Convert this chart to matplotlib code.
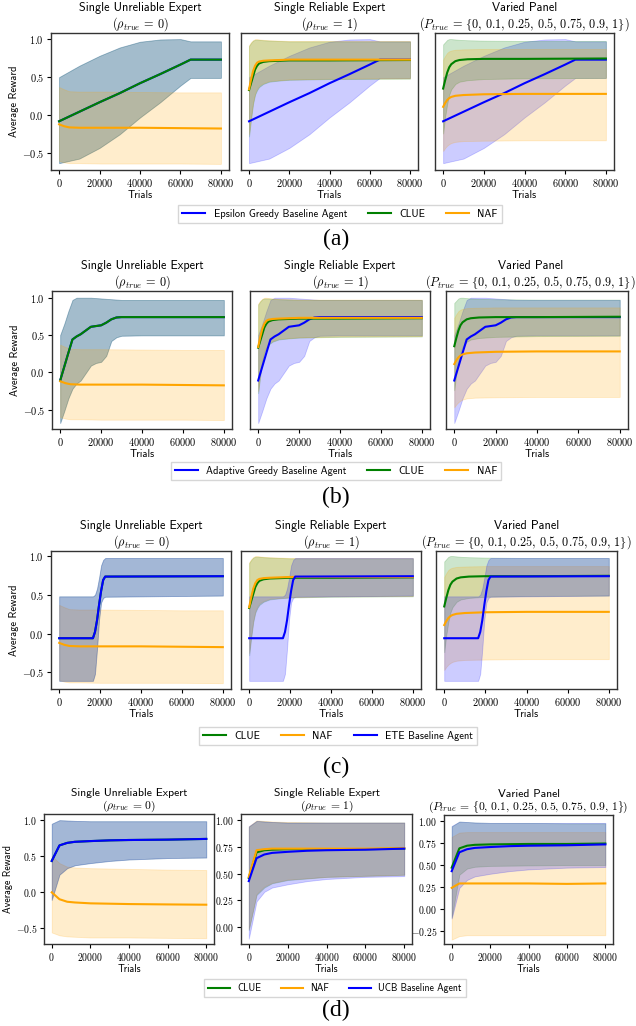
import matplotlib
matplotlib.use('Agg')
import matplotlib.pyplot as plt
from matplotlib.ticker import FuncFormatter
from matplotlib.lines import Line2D

# ---- data (trials, mean, lower band, upper band) ----
# (a) epsilon greedy baseline
EG_X = [0, 10000, 20000, 30000, 40000, 50000, 60000, 65000, 80000]
EG_MEAN = [-0.08, 0.045, 0.17, 0.29, 0.42, 0.54, 0.665, 0.73, 0.73]
EG_HI = [0.50, 0.65, 0.78, 0.89, 0.965, 0.995, 1.0, 0.97, 0.97]
EG_LO = [-0.63, -0.57, -0.43, -0.25, -0.03, 0.17, 0.39, 0.49, 0.49]

# (b) adaptive greedy baseline
AG_X = [0, 2000, 4000, 6000, 8000, 10000, 12500, 15000, 17500, 20000,
        22500, 25000, 27500, 30000, 40000, 80000]
AG_MEAN = [-0.11, 0.075, 0.26, 0.44, 0.48, 0.51, 0.56, 0.61, 0.62, 0.63,
           0.665, 0.71, 0.735, 0.74, 0.74, 0.74]
AG_HI = [0.50, 0.65, 0.82, 0.97, 1.0, 1.0, 1.0, 1.0, 0.995, 0.99,
         0.985, 0.98, 0.975, 0.97, 0.97, 0.97]
AG_LO = [-0.68, -0.52, -0.35, -0.22, -0.15, -0.11, -0.01, 0.09, 0.125, 0.14,
         0.22, 0.42, 0.47, 0.49, 0.495, 0.495]

# (c) ETE baseline
ETE_X = [0, 16500, 17500, 18500, 19500, 20500, 21500, 22500, 80000]
ETE_MEAN = [-0.06, -0.06, 0.02, 0.17, 0.37, 0.55, 0.69, 0.735, 0.74]
ETE_HI = [0.48, 0.48, 0.50, 0.58, 0.72, 0.88, 0.95, 0.975, 0.975]
ETE_LO = [-0.61, -0.61, -0.52, -0.20, 0.18, 0.40, 0.46, 0.475, 0.49]

# (d) UCB baseline
UCB_X = [0, 4000, 8000, 12000, 20000, 30000, 40000, 60000, 80000]
UCB_MEAN = [0.43, 0.645, 0.68, 0.695, 0.705, 0.715, 0.72, 0.725, 0.735]
UCB_HI = [0.945, 0.995, 0.99, 0.985, 0.98, 0.98, 0.98, 0.98, 0.98]
UCB_LO = [-0.11, 0.24, 0.33, 0.37, 0.40, 0.43, 0.45, 0.47, 0.477]

# NAF, single unreliable expert (a-c)
NU_X = [0, 2500, 5000, 10000, 20000, 40000, 60000, 80000]
NU_MEAN = [-0.12, -0.145, -0.16, -0.165, -0.165, -0.165, -0.17, -0.175]
NU_HI = [0.37, 0.34, 0.315, 0.31, 0.31, 0.305, 0.30, 0.30]
NU_LO = [-0.60, -0.62, -0.63, -0.63, -0.635, -0.635, -0.635, -0.64]

# CLUE / NAF, single reliable expert (a-c)
CR_X = [0, 1000, 2000, 3000, 4000, 5000, 7000, 10000, 15000, 20000, 40000, 80000]
CR_MEAN = [0.33, 0.42, 0.51, 0.60, 0.65, 0.68, 0.70, 0.71, 0.715, 0.72, 0.72, 0.725]
CR_HI = [0.91, 0.95, 0.98, 0.99, 0.99, 0.99, 0.985, 0.98, 0.975, 0.97, 0.97, 0.97]
CR_LO = [-0.28, -0.05, 0.15, 0.27, 0.33, 0.37, 0.41, 0.44, 0.455, 0.465, 0.475, 0.48]
NR_MEAN = [0.34, 0.47, 0.58, 0.65, 0.69, 0.705, 0.715, 0.72, 0.725, 0.73, 0.73, 0.73]
NR_HI = [0.92, 0.96, 0.985, 1.0, 1.0, 0.995, 0.99, 0.985, 0.98, 0.975, 0.975, 0.975]
NR_LO = [-0.25, -0.02, 0.17, 0.29, 0.35, 0.39, 0.42, 0.45, 0.46, 0.47, 0.48, 0.485]

# CLUE / NAF, varied panel (a-c)
CV_X = [0, 1000, 2000, 3000, 4000, 6000, 8000, 12000, 20000, 40000, 80000]
CV_MEAN = [0.35, 0.46, 0.56, 0.63, 0.67, 0.71, 0.725, 0.735, 0.74, 0.74, 0.745]
CV_HI = [0.93, 0.96, 0.99, 1.0, 1.0, 0.995, 0.99, 0.985, 0.98, 0.975, 0.975]
CV_LO = [-0.24, -0.02, 0.15, 0.27, 0.34, 0.41, 0.44, 0.46, 0.475, 0.485, 0.49]
NV_X = [0, 1000, 2000, 3000, 4000, 6000, 10000, 20000, 40000, 80000]
NV_MEAN = [0.11, 0.16, 0.20, 0.225, 0.24, 0.255, 0.265, 0.275, 0.28, 0.28]
NV_HI = [0.73, 0.78, 0.82, 0.84, 0.85, 0.86, 0.865, 0.87, 0.87, 0.87]
NV_LO = [-0.47, -0.43, -0.40, -0.38, -0.365, -0.35, -0.34, -0.335, -0.33, -0.33]

# row (d): NAF / CLUE
D_X = [0, 4000, 8000, 12000, 20000, 40000, 60000, 80000]
NUD_MEAN = [-0.005, -0.10, -0.135, -0.145, -0.157, -0.167, -0.172, -0.176]
NUD_HI = [0.50, 0.40, 0.35, 0.34, 0.33, 0.32, 0.31, 0.305]
NUD_LO = [-0.56, -0.60, -0.615, -0.62, -0.63, -0.63, -0.635, -0.64]
CRD_MEAN = [0.46, 0.70, 0.72, 0.725, 0.73, 0.73, 0.73, 0.735]
CRD_HI = [0.94, 0.995, 0.99, 0.985, 0.98, 0.98, 0.98, 0.98]
CRD_LO = [-0.03, 0.30, 0.37, 0.41, 0.44, 0.47, 0.48, 0.49]
NRD_MEAN = [0.47, 0.72, 0.73, 0.735, 0.735, 0.735, 0.735, 0.74]
NRD_HI = [0.945, 1.0, 0.995, 0.99, 0.985, 0.98, 0.98, 0.98]
NRD_LO = [-0.02, 0.31, 0.38, 0.415, 0.445, 0.47, 0.48, 0.49]
CVD_MEAN = [0.47, 0.69, 0.72, 0.73, 0.735, 0.74, 0.74, 0.745]
CVD_HI = [0.94, 0.995, 0.99, 0.985, 0.98, 0.98, 0.975, 0.975]
CVD_LO = [-0.10, 0.39, 0.46, 0.48, 0.49, 0.495, 0.5, 0.5]
NVD_MEAN = [0.24, 0.29, 0.29, 0.29, 0.29, 0.29, 0.285, 0.29]
NVD_HI = [0.82, 0.87, 0.875, 0.875, 0.875, 0.875, 0.875, 0.875]
NVD_LO = [-0.35, -0.31, -0.30, -0.30, -0.30, -0.30, -0.30, -0.30]

# \mathcal{f} / \mathcal{g} are the normal-size braces of cmsy10
TITLES = ["Single Unreliable Expert\n" + r"$(\rho_{true}\/=\/0)$",
          "Single Reliable Expert\n" + r"$(\rho_{true}\/=\/1)$",
          "Varied Panel\n" + r"$(P_{true}\/=\/\mathcal{f}0,\,0.1,\,0.25,\,0.5,\,0.75,\,0.9,\,1\mathcal{g})$"]
XTICKS = [0, 20000, 40000, 60000, 80000]

plt.rcParams['font.family'] = 'cmss10'
plt.rcParams['mathtext.fontset'] = 'cm'

W, H = 636, 1026
fig = plt.figure(figsize=(W / 100, H / 100), dpi=100)


def box(x0, y0, x1, y1):
    return [x0 / W, 1 - y1 / H, (x1 - x0) / W, (y1 - y0) / H]


def draw(ax, series):
    for (x, m, lo, hi), c in series:
        ax.fill_between(x, lo, hi, color=c, alpha=0.2, lw=0.6)
        ax.plot(x, m, color=c, lw=1.5)


def style(ax, title, ylim, left, yfmt='${:.1f}$', yticks=None, ylab=False, k=1.0,
          tx=0.5):
    ax.set_title(title, fontsize=8.8 * k, pad=2, linespacing=1.1, x=tx)
    ax.set_xlim(-4000, 84000)
    ax.set_ylim(*ylim)
    ax.set_xticks(XTICKS)
    ax.xaxis.set_major_formatter(FuncFormatter(lambda v, p: '${:.0f}$'.format(v)))
    if yticks is not None:
        ax.set_yticks(yticks)
    if left:
        ax.yaxis.set_major_formatter(FuncFormatter(lambda v, p: yfmt.format(v)))
    else:
        ax.tick_params(axis='y', left=False, labelleft=False)
    ax.tick_params(labelsize=7.4 * k, length=3, width=0.8, pad=2)
    ax.set_xlabel('Trials', fontsize=7.6 * k, labelpad=1)
    if ylab:
        ax.set_ylabel('Average Reward', fontsize=7.6 * k, labelpad=2)
    for s in ax.spines.values():
        s.set_color('0.2')
        s.set_linewidth(1.0)


def legend(labels, colors, cx, cy, k=1.0):
    handles = [Line2D([], [], color=c, lw=1.5) for c in colors]
    fig.legend(handles, labels, loc='center', bbox_to_anchor=(cx / W, 1 - cy / H),
               ncol=3, fontsize=7.5 * k, handlelength=2.2, columnspacing=2.0,
               borderpad=0.4, edgecolor='0.8', fancybox=False)


def tag(s, cy):
    fig.text(336 / W, 1 - cy / H, s, family='Liberation Serif', fontsize=17,
             ha='center', va='center')


EG = (EG_X, EG_MEAN, EG_LO, EG_HI)
AG = (AG_X, AG_MEAN, AG_LO, AG_HI)
ETE = (ETE_X, ETE_MEAN, ETE_LO, ETE_HI)
UCB = (UCB_X, UCB_MEAN, UCB_LO, UCB_HI)
NU = (NU_X, NU_MEAN, NU_LO, NU_HI)
CR = (CR_X, CR_MEAN, CR_LO, CR_HI)
NR = (CR_X, NR_MEAN, NR_LO, NR_HI)
CV = (CV_X, CV_MEAN, CV_LO, CV_HI)
NV = (NV_X, NV_MEAN, NV_LO, NV_HI)
NUD = (D_X, NUD_MEAN, NUD_LO, NUD_HI)
CRD = (D_X, CRD_MEAN, CRD_LO, CRD_HI)
NRD = (D_X, NRD_MEAN, NRD_LO, NRD_HI)
CVD = (D_X, CVD_MEAN, CVD_LO, CVD_HI)
NVD = (D_X, NVD_MEAN, NVD_LO, NVD_HI)

B, G, O = 'blue', 'green', 'orange'

rows = [
    # axes boxes, panel series, ylim, legend (labels, colors, centre), tag y
    dict(boxes=[(51, 33, 229, 170), (241, 33, 418, 170), (435, 33, 614, 170)],
         panels=[[(EG, B), (EG, G), (NU, O)],
                 [(EG, B), (CR, G), (NR, O)],
                 [(EG, B), (CV, G), (NV, O)]],
         ylim=(-0.72, 1.08), tx=0.5,
         leg=(['Epsilon Greedy Baseline Agent', 'CLUE', 'NAF'], [B, G, O], (340, 214)),
         tag=('(a)', 239)),
    dict(boxes=[(52, 291, 232, 429), (250, 291, 430, 429), (446, 291, 628, 429)],
         panels=[[(AG, B), (AG, G), (NU, O)],
                 [(AG, B), (CR, G), (NR, O)],
                 [(AG, B), (CV, G), (NV, O)]],
         ylim=(-0.76, 1.09), tx=0.465,
         leg=(['Adaptive Greedy Baseline Agent', 'CLUE', 'NAF'], [B, G, O], (336, 471)),
         tag=('(b)', 497)),
    dict(boxes=[(51, 551, 231, 689), (241, 551, 421, 689), (436, 551, 617, 689)],
         panels=[[(ETE, G), (NU, O), (ETE, B)],
                 [(CR, G), (NR, O), (ETE, B)],
                 [(CV, G), (NV, O), (ETE, B)]],
         ylim=(-0.715, 1.065), tx=0.5,
         leg=(['CLUE', 'NAF', 'ETE Baseline Agent'], [G, O, B], (338, 736)),
         tag=('(c)', 767)),
]

for r in rows:
    for i, (bx, ser) in enumerate(zip(r['boxes'], r['panels'])):
        ax = fig.add_axes(box(*bx))
        draw(ax, ser)
        style(ax, TITLES[i], r['ylim'], left=(i == 0), yticks=[-0.5, 0.0, 0.5, 1.0],
              ylab=(i == 0), tx=(r['tx'] if i == 2 else 0.5))
    labels, colors, (cx, cy) = r['leg']
    legend(labels, colors, cx, cy)
    tag(*r['tag'])

# row (d): every panel has its own y scale
d_boxes = [(44, 814, 214, 944), (241, 814, 412, 944), (444, 815, 613, 944)]
d_panels = [[(UCB, G), (NUD, O), (UCB, B)],
            [(CRD, G), (NRD, O), (UCB, B)],
            [(CVD, G), (NVD, O), (UCB, B)]]
d_ylims = [(-0.72, 1.08), (-0.16, 1.06), (-0.40, 1.07)]
d_yticks = [[-0.5, 0.0, 0.5, 1.0], [0.0, 0.25, 0.5, 0.75, 1.0],
            [-0.25, 0.0, 0.25, 0.5, 0.75, 1.0]]
d_fmt = ['${:.1f}$', '${:.2f}$', '${:.2f}$']
for i in range(3):
    ax = fig.add_axes(box(*d_boxes[i]))
    draw(ax, d_panels[i])
    style(ax, TITLES[i], d_ylims[i], left=True, yfmt=d_fmt[i], yticks=d_yticks[i],
          ylab=(i == 0), k=0.95)
legend(['CLUE', 'NAF', 'UCB Baseline Agent'], [G, O, B], 335, 988, k=0.94)
tag('(d)', 1010)

fig.savefig('out.png', dpi=100)
